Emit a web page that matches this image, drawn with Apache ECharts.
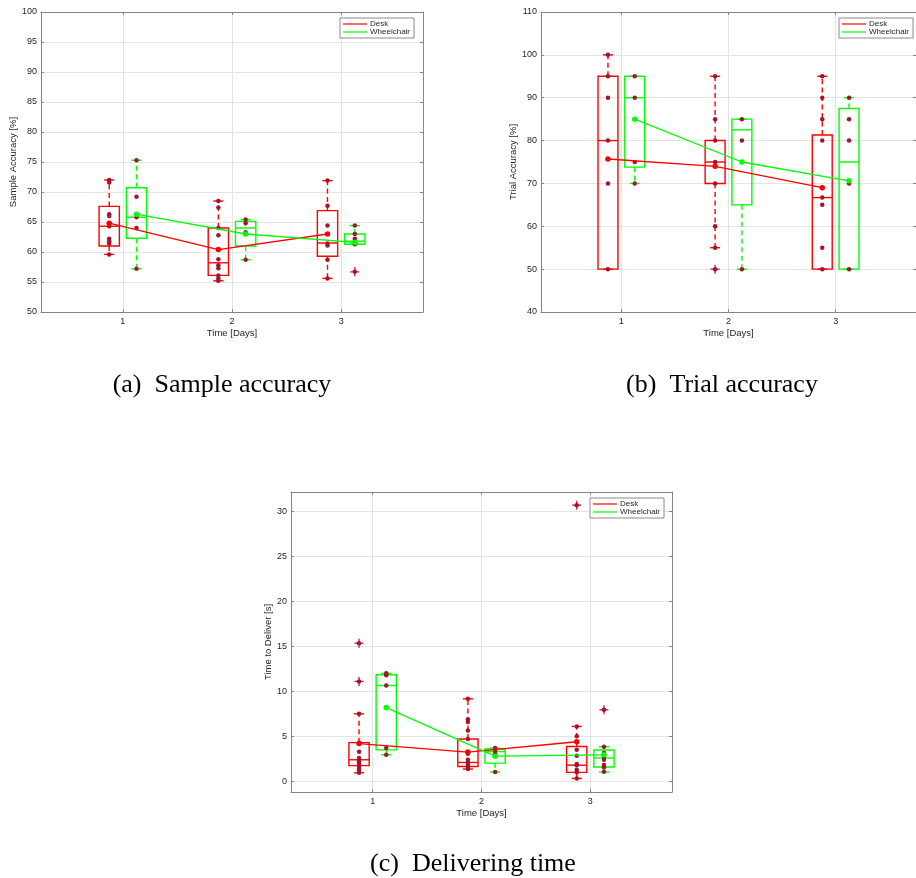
<!DOCTYPE html>
<html>
<head>
<meta charset="utf-8">
<script src="https://cdn.jsdelivr.net/npm/echarts@6/dist/echarts.min.js"></script>
<style>
  html, body { margin: 0; padding: 0; background: #ffffff; }
  #main { width: 916px; height: 878px; }
</style>
</head>
<body>
<div id="main"></div>
<script>
// ---- data -------------------------------------------------------------
const days = [1, 2, 3];

// Box summaries per day: [lower whisker, Q1, median, Q3, upper whisker]
const sampleDeskBox = [[59.6, 61.0, 64.3, 67.6, 72.0], [55.2, 56.1, 58.2, 64.0, 68.5], [55.6, 59.3, 61.5, 66.9, 71.9]];
const sampleWheelBox = [[57.2, 62.3, 65.8, 70.7, 75.3], [58.7, 61.0, 64.0, 65.1, 65.4], [61.3, 61.3, 61.8, 63.0, 64.4]];
const sampleDeskPoints = [[72.0, 71.6, 66.3, 66.0, 64.3, 62.2, 61.8, 61.4, 59.6], [68.5, 67.4, 64.0, 62.8, 58.8, 57.8, 57.3, 56.1, 55.6, 55.2], [71.9, 67.7, 64.4, 61.4, 61.1, 58.7, 55.6]];
const sampleWheelPoints = [[75.3, 69.2, 65.8, 64.0, 57.2], [65.4, 64.8, 63.3, 58.7], [64.4, 63.0, 62.2, 61.3, 56.7]];
const sampleDeskOutliers = [[], [], []];
const sampleWheelOutliers = [[], [], [56.7]];
const sampleDeskMean = [64.8, 60.4, 63.0];
const sampleWheelMean = [66.3, 63.0, 61.6];

const trialDeskBox = [[50, 50, 80, 95, 100], [55, 70, 75, 80, 95], [50, 50, 66.7, 81.3, 95]];
const trialWheelBox = [[70, 73.8, 90, 95, 95], [50, 65, 82.5, 85, 85], [50, 50, 75, 87.5, 90]];
const trialDeskPoints = [[100, 95, 90, 80, 70, 50], [95, 85, 80, 75, 70, 60, 55, 50], [95, 90, 85, 80, 66.7, 65, 55, 50]];
const trialWheelPoints = [[95, 90, 75, 70], [85, 80, 50], [90, 85, 80, 70, 50]];
const trialDeskOutliers = [[], [50], []];
const trialWheelOutliers = [[], [], []];
const trialDeskMean = [75.7, 74.0, 69.0];
const trialWheelMean = [85.0, 75.0, 70.6];

const timeDeskBox = [[0.95, 1.75, 2.4, 4.3, 7.5], [1.37, 1.66, 2.1, 4.7, 9.17], [0.33, 1.0, 1.8, 3.88, 6.1]];
const timeWheelBox = [[2.96, 3.5, 10.65, 11.84, 12.0], [1.04, 2.03, 3.3, 3.59, 3.7], [1.04, 1.6, 2.6, 3.48, 3.85]];
const timeDeskPoints = [[15.35, 11.1, 7.5, 4.3, 3.3, 2.6, 2.4, 2.2, 2.0, 1.8, 1.6, 1.4, 1.2, 0.95], [9.17, 6.9, 6.6, 5.66, 4.7, 3.2, 3.07, 2.4, 2.1, 1.85, 1.6, 1.37], [30.67, 6.1, 5.0, 3.52, 2.85, 1.93, 1.8, 1.3, 1.0, 0.33]];
const timeWheelPoints = [[12.0, 11.8, 10.65, 3.7, 2.96], [3.7, 3.44, 3.07, 1.04], [7.95, 3.85, 3.15, 2.77, 2.41, 1.82, 1.56, 1.08]];
const timeDeskOutliers = [[15.35, 11.1], [], [30.67]];
const timeWheelOutliers = [[], [], [7.95]];
const timeDeskMean = [4.2, 3.25, 4.4];
const timeWheelMean = [8.2, 2.8, 2.95];

const sampleTicks = [50, 55, 60, 65, 70, 75, 80, 85, 90, 95, 100];
const trialTicks = [40, 50, 60, 70, 80, 90, 100, 110];
const timeTicks = [0, 5, 10, 15, 20, 25, 30];

// ---- styling ----------------------------------------------------------
const RED = '#ff0000';
const GREEN = '#00ff00';
const DOT = '#a2142f';
const PLUS = '#c8102e';
const AXIS = '#858585';
const GRID = '#e4e4e4';
const TEXT = '#262626';
const SANS = 'Liberation Sans';
const SHIFT = 0.125;      // horizontal offset of each group from the day tick
const BOX_WIDTH = 0.186;  // box width in x-axis units
const PLUS_PATH = 'path://M4.3,0H5.7V4.3H10V5.7H5.7V10H4.3V5.7H0V4.3H4.3Z';
const LEGEND_ICON = 'path://M0,0H40V2H0Z';
const CAPTION_FONT = '26px "Liberation Serif"';

function boxRenderer(color) {
  return function (params, api) {
    const x = api.value(0);
    const v = [1, 2, 3, 4, 5].map(i => api.value(i));
    const c = v.map(val => api.coord([x, val]));
    const cx = c[0][0];
    const half = api.size([BOX_WIDTH, 0])[0] / 2;
    const cap = half / 2;
    const solid = { stroke: color, lineWidth: 1.4, fill: null };
    const dashed = { stroke: color, lineWidth: 1.4, lineDash: [5, 3.5], fill: null };
    const ch = [];
    if (v[4] > v[3]) ch.push({ type: 'line', shape: { x1: cx, y1: c[3][1], x2: cx, y2: c[4][1] }, style: dashed });
    if (v[0] < v[1]) ch.push({ type: 'line', shape: { x1: cx, y1: c[1][1], x2: cx, y2: c[0][1] }, style: dashed });
    ch.push({ type: 'line', shape: { x1: cx - cap, y1: c[4][1], x2: cx + cap, y2: c[4][1] }, style: solid });
    ch.push({ type: 'line', shape: { x1: cx - cap, y1: c[0][1], x2: cx + cap, y2: c[0][1] }, style: solid });
    ch.push({ type: 'rect', shape: { x: cx - half, y: c[3][1], width: 2 * half, height: c[1][1] - c[3][1] }, style: solid });
    ch.push({ type: 'line', shape: { x1: cx - half, y1: c[2][1], x2: cx + half, y2: c[2][1] }, style: solid });
    return { type: 'group', children: ch };
  };
}

function groupSeries(gi, name, color, shift, box, points, outliers, mean) {
  const axes = { xAxisIndex: gi * 2, yAxisIndex: gi * 2 };
  const boxData = days.map((d, i) => [d + shift].concat(box[i]));
  const pointData = [];
  const outData = [];
  days.forEach((d, i) => {
    points[i].forEach(v => pointData.push([d + shift, v]));
    outliers[i].forEach(v => outData.push([d + shift, v]));
  });
  return [
    { type: 'custom', name: name + ' box', ...axes, renderItem: boxRenderer(color),
      encode: { x: 0, y: [1, 2, 3, 4, 5] }, data: boxData, z: 2, silent: true },
    { type: 'scatter', name: name + ' outlier', ...axes, symbol: PLUS_PATH, symbolSize: 9,
      itemStyle: { color: PLUS, opacity: 1 }, data: outData, z: 3, silent: true },
    { type: 'scatter', name: name + ' sample', ...axes, symbol: 'circle', symbolSize: 4.5,
      itemStyle: { color: DOT, opacity: 1 }, data: pointData, z: 4, silent: true },
    { type: 'line', name: name, ...axes, data: days.map((d, i) => [d + shift, mean[i]]),
      symbol: 'circle', symbolSize: 5.5, showSymbol: true,
      itemStyle: { color: color, opacity: 1 }, lineStyle: { color: color, width: 1.3 }, z: 5, silent: true }
  ];
}

function axesFor(gi, yMin, yMax, ticks, yName, yGap) {
  const line = { show: true, onZero: false, lineStyle: { color: AXIS, width: 1 } };
  const tick = (vals) => ({ show: true, inside: true, length: 3, customValues: vals, lineStyle: { color: AXIS } });
  const x = [
    { gridIndex: gi, type: 'value', position: 'bottom', min: 0.25, max: 3.75,
      axisLine: line, axisTick: tick(days),
      axisLabel: { customValues: days, fontSize: 9, color: TEXT, margin: 5, fontFamily: SANS },
      splitLine: { show: true, lineStyle: { color: GRID, width: 1 } },
      name: 'Time [Days]', nameLocation: 'middle', nameGap: 16,
      nameTextStyle: { fontSize: 9.5, color: TEXT, fontFamily: SANS } },
    { gridIndex: gi, type: 'value', position: 'top', min: 0.25, max: 3.75,
      axisLine: line, axisTick: tick(days), axisLabel: { show: false }, splitLine: { show: false } }
  ];
  const y = [
    { gridIndex: gi, type: 'value', position: 'left', min: yMin, max: yMax,
      axisLine: line, axisTick: tick(ticks),
      axisLabel: { customValues: ticks, fontSize: 9, color: TEXT, margin: 4, fontFamily: SANS },
      splitLine: { show: true, lineStyle: { color: GRID, width: 1 } },
      name: yName, nameLocation: 'middle', nameGap: yGap, nameRotate: 90,
      nameTextStyle: { fontSize: 9.5, color: TEXT, fontFamily: SANS } },
    { gridIndex: gi, type: 'value', position: 'right', min: yMin, max: yMax,
      axisLine: line, axisTick: tick(ticks), axisLabel: { show: false }, splitLine: { show: false } }
  ];
  return { x, y };
}

function legendAt(left, top) {
  return {
    left: left, top: top, orient: 'vertical', selectedMode: false,
    data: [{ name: 'Desk', icon: LEGEND_ICON }, { name: 'Wheelchair', icon: LEGEND_ICON }],
    itemWidth: 24, itemHeight: 10, itemGap: 0,
    padding: [2, 4, 2, 3],
    backgroundColor: '#ffffff', borderColor: '#8a8a8a', borderWidth: 1, borderRadius: 0,
    textStyle: { fontSize: 8, color: TEXT, fontFamily: SANS, padding: [0, 0, 0, -2] }
  };
}

const a = axesFor(0, 50, 100, sampleTicks, 'Sample Accuracy [%]', 20.5);
const b = axesFor(1, 40, 110, trialTicks, 'Trial Accuracy [%]', 22);
const c = axesFor(2, -1.18, 32.14, timeTicks, 'Time to Deliver [s]', 16.5);

const option = {
  animation: false,
  backgroundColor: '#ffffff',
  textStyle: { fontFamily: SANS },
  grid: [
    { left: 41, top: 12, width: 382, height: 300 },
    { left: 541, top: 12, width: 381, height: 300 },
    { left: 291, top: 492, width: 381, height: 300 }
  ],
  xAxis: [].concat(a.x, b.x, c.x),
  yAxis: [].concat(a.y, b.y, c.y),
  legend: [legendAt(340, 18), legendAt(839, 18), legendAt(590, 498)],
  series: [].concat(
    groupSeries(0, 'Desk', RED, -SHIFT, sampleDeskBox, sampleDeskPoints, sampleDeskOutliers, sampleDeskMean),
    groupSeries(0, 'Wheelchair', GREEN, SHIFT, sampleWheelBox, sampleWheelPoints, sampleWheelOutliers, sampleWheelMean),
    groupSeries(1, 'Desk', RED, -SHIFT, trialDeskBox, trialDeskPoints, trialDeskOutliers, trialDeskMean),
    groupSeries(1, 'Wheelchair', GREEN, SHIFT, trialWheelBox, trialWheelPoints, trialWheelOutliers, trialWheelMean),
    groupSeries(2, 'Desk', RED, -SHIFT, timeDeskBox, timeDeskPoints, timeDeskOutliers, timeDeskMean),
    groupSeries(2, 'Wheelchair', GREEN, SHIFT, timeWheelBox, timeWheelPoints, timeWheelOutliers, timeWheelMean)
  ),
  graphic: [
    { type: 'text', x: 222, y: 385, style: { text: '(a)  Sample accuracy', font: CAPTION_FONT, fill: '#000', textAlign: 'center', textVerticalAlign: 'middle' } },
    { type: 'text', x: 722, y: 385, style: { text: '(b)  Trial accuracy', font: CAPTION_FONT, fill: '#000', textAlign: 'center', textVerticalAlign: 'middle' } },
    { type: 'text', x: 473, y: 864, style: { text: '(c)  Delivering time', font: CAPTION_FONT, fill: '#000', textAlign: 'center', textVerticalAlign: 'middle' } }
  ]
};

echarts.init(document.getElementById('main'), null, { renderer: 'canvas' }).setOption(option);
</script>
</body>
</html>
